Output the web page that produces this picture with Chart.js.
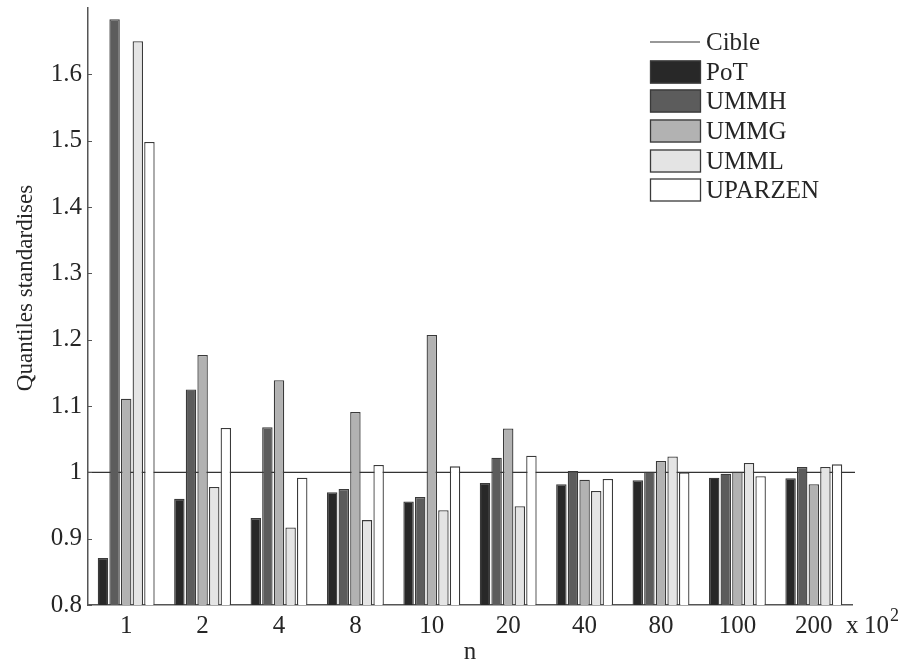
<!DOCTYPE html>
<html>
<head>
<meta charset="utf-8">
<script src="https://cdn.jsdelivr.net/npm/chart.js@4.4.1/dist/chart.umd.min.js"></script>
<style>
  html, body { margin: 0; padding: 0; background: #ffffff; overflow: hidden; }
  #wrap { width: 916px; height: 663px; position: relative; }
</style>
</head>
<body>
<div id="wrap"><canvas id="chart" width="916" height="663"></canvas></div>
<script>
// Sample sizes (in hundreds)
const categories = ['1', '2', '4', '8', '10', '20', '40', '80', '100', '200'];

// Standardised quantiles for each estimator
const pot     = [0.871, 0.960, 0.931, 0.970, 0.956, 0.984, 0.982, 0.988, 0.992, 0.991];
const ummh    = [1.683, 1.125, 1.068, 0.975, 0.963, 1.022, 1.002, 1.001, 0.998, 1.008];
const ummg    = [1.111, 1.177, 1.139, 1.091, 1.207, 1.066, 0.989, 1.017, 1.001, 0.982];
const umml    = [1.650, 0.978, 0.917, 0.928, 0.943, 0.949, 0.972, 1.024, 1.014, 1.008];
const uparzen = [1.498, 1.067, 0.992, 1.011, 1.009, 1.025, 0.990, 1.000, 0.994, 1.012];

// Target level
const cible = 1;

// Axis ticks
const yTicks = [0.8, 0.9, 1.0, 1.1, 1.2, 1.3, 1.4, 1.5, 1.6];
const yTickLabels = ['0.8', '0.9', '1', '1.1', '1.2', '1.3', '1.4', '1.5', '1.6'];

const seriesNames = ['PoT', 'UMMH', 'UMMG', 'UMML', 'UPARZEN'];
const seriesFills = ['#282828', '#5c5c5c', '#b2b2b2', '#e4e4e4', '#ffffff'];

const FONT = "'Liberation Serif', 'Times New Roman', serif";
const TEXT = '#262626';
const EDGE = '#3a3a3a';
const TARGET_COLOR = '#333333';

const seriesData = [pot, ummh, ummg, umml, uparzen];
const datasets = seriesNames.map((name, i) => ({
  label: name,
  data: seriesData[i],
  backgroundColor: seriesFills[i],
  borderColor: EDGE,
  borderWidth: 1.3,
  borderSkipped: 'bottom'
}));

// Horizontal target line across the whole plot, behind the bars
const targetLine = {
  id: 'targetLine',
  beforeDatasetsDraw(chart) {
    const { ctx, chartArea, scales } = chart;
    const y = scales.y.getPixelForValue(cible);
    ctx.save();
    ctx.strokeStyle = TARGET_COLOR;
    ctx.lineWidth = 1.2;
    ctx.beginPath();
    ctx.moveTo(chartArea.left, y);
    ctx.lineTo(chartArea.right + 3, y);
    ctx.stroke();
    ctx.restore();
  }
};

// Small inward tick marks on the value axis
const innerTicks = {
  id: 'innerTicks',
  afterDatasetsDraw(chart) {
    const { ctx, chartArea, scales } = chart;
    ctx.save();
    ctx.strokeStyle = '#555555';
    ctx.lineWidth = 1;
    scales.y.ticks.forEach(t => {
      const y = Math.round(scales.y.getPixelForValue(t.value)) + 0.5;
      ctx.beginPath();
      ctx.moveTo(chartArea.left, y);
      ctx.lineTo(chartArea.left + 4, y);
      ctx.stroke();
    });
    ctx.restore();
  }
};

// Rotated title of the value axis
const yTitle = {
  id: 'yTitle',
  afterDraw(chart) {
    const ctx = chart.ctx;
    ctx.save();
    ctx.translate(26, 288);
    ctx.rotate(-Math.PI / 2);
    ctx.font = '23px ' + FONT;
    ctx.fillStyle = TEXT;
    ctx.textAlign = 'center';
    ctx.textBaseline = 'middle';
    ctx.fillText('Quantiles standardises', 0, 0);
    ctx.restore();
  }
};

// Legend drawn inside the plot, top right
const insideLegend = {
  id: 'insideLegend',
  afterDraw(chart) {
    const ctx = chart.ctx;
    const x0 = 650, sw = 51, sh = 23, textX = 706;
    const rows = [42, 72, 101, 131, 161, 190];
    ctx.save();
    ctx.font = '25px ' + FONT;
    ctx.textBaseline = 'middle';
    ctx.textAlign = 'left';
    // target entry
    ctx.strokeStyle = TARGET_COLOR;
    ctx.lineWidth = 1.2;
    ctx.beginPath();
    ctx.moveTo(x0, rows[0]);
    ctx.lineTo(x0 + sw - 1, rows[0]);
    ctx.stroke();
    ctx.fillStyle = TEXT;
    ctx.fillText('Cible', textX, rows[0] + 1);
    chart.data.datasets.forEach((ds, i) => {
      const y = rows[i + 1];
      ctx.fillStyle = ds.backgroundColor;
      ctx.fillRect(x0, y - sh / 2, sw, sh);
      ctx.strokeStyle = EDGE;
      ctx.lineWidth = 1.3;
      ctx.strokeRect(x0 + 0.5, y - sh / 2 + 0.5, sw - 1, sh - 1);
      ctx.fillStyle = TEXT;
      ctx.fillText(ds.label, textX, y + 1);
    });
    ctx.restore();
  }
};

// "x 10^2" multiplier at the end of the category axis
const axisMultiplier = {
  id: 'axisMultiplier',
  afterDraw(chart) {
    const ctx = chart.ctx;
    ctx.save();
    ctx.fillStyle = TEXT;
    ctx.textBaseline = 'alphabetic';
    ctx.textAlign = 'left';
    ctx.font = '25px ' + FONT;
    const base = 633;
    ctx.fillText('x', 846, base);
    ctx.fillText('10', 864, base);
    const w = ctx.measureText('10').width;
    ctx.font = '18px ' + FONT;
    ctx.fillText('2', 864 + w + 1, base - 12);
    ctx.restore();
  }
};

new Chart(document.getElementById('chart'), {
  type: 'bar',
  data: { labels: categories, datasets: datasets },
  options: {
    responsive: false,
    animation: false,
    datasets: { bar: { categoryPercentage: 0.76, barPercentage: 0.9 } },
    layout: { padding: { left: 0, right: 64, top: 8, bottom: 0 } },
    plugins: {
      legend: { display: false },
      tooltip: { enabled: false }
    },
    scales: {
      x: {
        type: 'category',
        offset: true,
        grid: { display: false, drawTicks: false },
        border: { display: true, color: '#555555', width: 1.5 },
        ticks: { color: TEXT, font: { family: FONT, size: 25 }, padding: 6, maxRotation: 0, autoSkip: false },
        title: { display: true, text: 'n', color: TEXT, font: { family: FONT, size: 25 }, padding: { top: 0, bottom: -4 } },
        afterFit(scale) {
          scale.height = 58;
          scale.paddingLeft = 0;
          scale.paddingRight = 0;
        }
      },
      y: {
        type: 'linear',
        min: 0.8,
        max: 1.7,
        grid: { display: false, drawTicks: false },
        border: { display: true, color: '#555555', width: 1.5 },
        afterBuildTicks(scale) { scale.ticks = yTicks.map(v => ({ value: v })); },
        ticks: {
          color: TEXT,
          font: { family: FONT, size: 25 },
          padding: 6,
          callback(value) {
            const i = yTicks.findIndex(t => Math.abs(t - value) < 1e-9);
            return i >= 0 ? yTickLabels[i] : '';
          }
        },
        title: { display: false },
        afterFit(scale) {
          scale.width = 88;
          scale.paddingTop = 0;
          scale.paddingBottom = 0;
        }
      }
    }
  },
  plugins: [targetLine, innerTicks, yTitle, insideLegend, axisMultiplier]
});
</script>
</body>
</html>
